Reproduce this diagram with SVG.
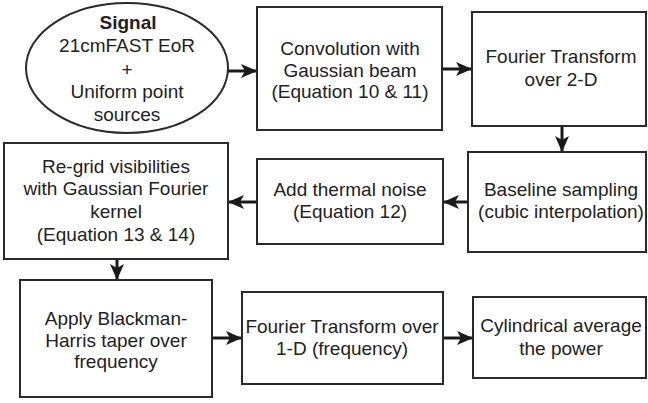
<svg xmlns="http://www.w3.org/2000/svg" width="648" height="403" viewBox="0 0 648 403">
<defs>
<style>
.box{fill:#fff;stroke:#2a2a2a;stroke-width:2}
.t{font-family:"Liberation Sans",Arial,sans-serif;font-size:19px;fill:#222;text-anchor:middle}
.b{font-weight:bold}
.c{stroke:#1a1a1a;stroke-width:3;fill:none}
</style>
<marker id="ah" markerUnits="userSpaceOnUse" markerWidth="16" markerHeight="16" viewBox="0 0 16 16" refX="15" refY="8" orient="auto">
<path d="M0,1 L16,8 L0,15 L4,8 z" fill="#1a1a1a"/>
</marker>
</defs>
<rect width="648" height="403" fill="#fff"/>
<g id="connectors">
<line class="c" x1="228" y1="71" x2="256" y2="71" marker-end="url(#ah)"/>
<line class="c" x1="442" y1="69" x2="471" y2="69" marker-end="url(#ah)"/>
<line class="c" x1="562" y1="126" x2="562" y2="151" marker-end="url(#ah)"/>
<line class="c" x1="468" y1="202" x2="444" y2="202" marker-end="url(#ah)"/>
<line class="c" x1="257" y1="202" x2="229" y2="202" marker-end="url(#ah)"/>
<line class="c" x1="117" y1="259" x2="117" y2="279" marker-end="url(#ah)"/>
<line class="c" x1="212" y1="338" x2="241" y2="338" marker-end="url(#ah)"/>
<line class="c" x1="443" y1="338" x2="472" y2="338" marker-end="url(#ah)"/>
</g>
<g id="signal">
<ellipse class="box" cx="127" cy="68" rx="101" ry="65"/>
<text class="t b" x="128" y="29">Signal</text>
<text class="t" x="127" y="52">21cmFAST EoR</text>
<text class="t" x="127" y="76">+</text>
<text class="t" x="127" y="98">Uniform point</text>
<text class="t" x="127" y="121">sources</text>
</g>
<g id="convolution">
<rect class="box" x="257" y="7" width="185" height="123"/>
<text class="t" x="350" y="55">Convolution with</text>
<text class="t" x="350" y="77">Gaussian beam</text>
<text class="t" x="350" y="98">(Equation 10 &amp; 11)</text>
</g>
<g id="fourier2d">
<rect class="box" x="472" y="12" width="174" height="114"/>
<text class="t" x="561" y="63">Fourier Transform</text>
<text class="t" x="561" y="86">over 2-D</text>
</g>
<g id="baseline">
<rect class="box" x="468" y="152" width="178" height="100"/>
<text class="t" x="561" y="196">Baseline sampling</text>
<text class="t" x="561" y="218">(cubic interpolation)</text>
</g>
<g id="noise">
<rect class="box" x="257" y="159" width="186" height="85"/>
<text class="t" x="350" y="196">Add thermal noise</text>
<text class="t" x="350" y="218">(Equation 12)</text>
</g>
<g id="regrid">
<rect class="box" x="4" y="143" width="224" height="116"/>
<text class="t" x="116" y="173">Re-grid visibilities</text>
<text class="t" x="116" y="195">with Gaussian Fourier</text>
<text class="t" x="116" y="218">kernel</text>
<text class="t" x="116" y="241">(Equation 13 &amp; 14)</text>
</g>
<g id="taper">
<rect class="box" x="20" y="280" width="192" height="117"/>
<text class="t" x="116" y="325">Apply Blackman-</text>
<text class="t" x="116" y="347">Harris taper over</text>
<text class="t" x="116" y="368">frequency</text>
</g>
<g id="fourier1d">
<rect class="box" x="242" y="292" width="201" height="92"/>
<text class="t" x="342" y="333">Fourier Transform over</text>
<text class="t" x="342" y="355">1-D (frequency)</text>
</g>
<g id="cylindrical">
<rect class="box" x="473" y="297" width="173" height="81"/>
<text class="t" x="561" y="332">Cylindrical average</text>
<text class="t" x="561" y="355">the power</text>
</g>
</svg>
